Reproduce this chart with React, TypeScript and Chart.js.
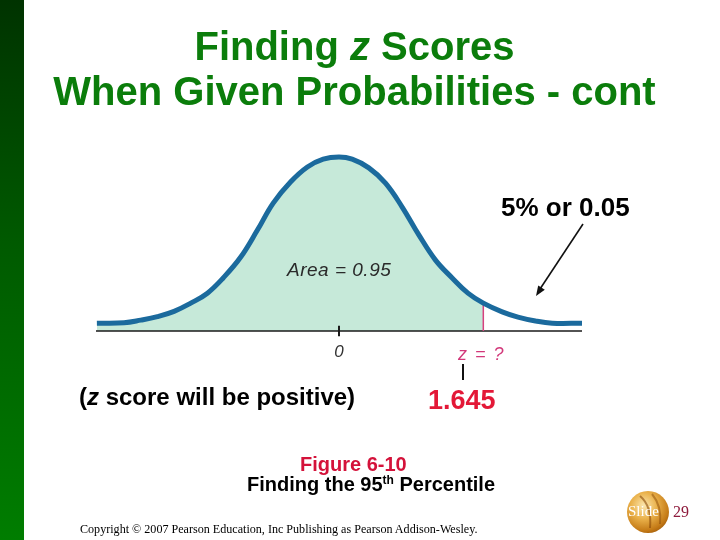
import React, { useEffect, useRef } from "react";
import { Chart, registerables } from "chart.js";

Chart.register(...registerables);

// z positions read along the drawn curve, and the curve's height above the axis
const curveZ = [-2.76, -2.45, -2.26, -2.07, -1.88, -1.69, -1.5, -1.32, -1.12, -0.93, -0.75, -0.55, -0.36, -0.18, 0, 0.15, 0.34, 0.53, 0.72, 0.91, 1.1, 1.29, 1.47, 1.645, 1.86, 2.04, 2.24, 2.43, 2.77];
const curveH = [0.018, 0.019, 0.025, 0.033, 0.045, 0.064, 0.087, 0.122, 0.17, 0.232, 0.294, 0.343, 0.377, 0.395, 0.4, 0.395, 0.375, 0.34, 0.285, 0.221, 0.163, 0.122, 0.087, 0.064, 0.044, 0.032, 0.023, 0.018, 0.018];
const cutoffZ = 1.645;
const zRange = [-2.77, 2.77];
const hMax = 0.45;
const tickZ = [0];

const titleLines = ["Finding", "z", "Scores", "When Given Probabilities - cont"];

const SANS = '"Liberation Sans", Arial, sans-serif';
const SERIF = '"Liberation Serif", "Times New Roman", serif';

function T(props: { x: number; y: number; size: number; children: any; style?: any; center?: boolean; serif?: boolean }) {
  const { x, y, size, children, style, center, serif } = props;
  const off = serif ? 0.8375 : 0.8465;
  return (
    <div
      style={{
        position: "absolute",
        left: center ? x - 300 : x,
        width: center ? 600 : undefined,
        textAlign: center ? "center" : "left",
        top: y - off * size,
        fontSize: size,
        lineHeight: `${size}px`,
        whiteSpace: "nowrap",
        fontFamily: serif ? SERIF : SANS,
        ...style,
      }}
    >
      {children}
    </div>
  );
}

export default function App() {
  const ref = useRef<HTMLCanvasElement | null>(null);

  useEffect(() => {
    if (!ref.current) return;
    const curvePts = curveZ.map((z, i) => ({ x: z, y: curveH[i] }));
    const areaPts = curvePts.filter((p) => p.x <= cutoffZ);
    const cutoffH = curveH[curveZ.indexOf(cutoffZ)];
    const chart = new Chart(ref.current, {
      type: "scatter",
      data: {
        datasets: [
          {
            label: "curve",
            data: curvePts,
            showLine: true,
            borderColor: "#1b6a9d",
            borderWidth: 5,
            pointRadius: 0,
            tension: 0.4,
            fill: false,
            clip: false,
            order: 0,
          } as any,
          {
            label: "cutoff",
            data: [
              { x: cutoffZ, y: 0 },
              { x: cutoffZ, y: cutoffH },
            ],
            showLine: true,
            borderColor: "#d6417f",
            borderWidth: 1.5,
            pointRadius: 0,
            order: 1,
          },
          {
            label: "axis",
            data: [
              { x: zRange[0], y: 0 },
              { x: zRange[1], y: 0 },
            ],
            showLine: true,
            borderColor: "#1a1a1a",
            borderWidth: 1.5,
            pointRadius: 0,
            clip: false,
            order: 2,
          } as any,
          ...tickZ.map(
            (z) =>
              ({
                label: "tick",
                data: [
                  { x: z, y: -0.012 },
                  { x: z, y: 0.012 },
                ],
                showLine: true,
                borderColor: "#1a1a1a",
                borderWidth: 2,
                pointRadius: 0,
                clip: false,
                order: 2,
              } as any)
          ),
          {
            label: "area",
            data: areaPts,
            showLine: true,
            fill: "origin",
            backgroundColor: "#c6e9d9",
            borderColor: "rgba(0,0,0,0)",
            borderWidth: 1,
            pointRadius: 0,
            tension: 0.4,
            order: 3,
          } as any,
        ],
      },
      options: {
        animation: false,
        responsive: false,
        devicePixelRatio: 1,
        events: [],
        layout: { padding: { left: 96, right: 138, top: 135.25, bottom: 209 } },
        plugins: { legend: { display: false }, tooltip: { enabled: false } },
        scales: {
          x: { type: "linear", min: zRange[0], max: zRange[1], display: false },
          y: { type: "linear", min: 0, max: hMax, display: false },
        },
      },
    });
    return () => chart.destroy();
  }, []);

  return (
    <div
      style={{
        position: "fixed",
        left: 0,
        top: 0,
        width: 720,
        height: 540,
        background: "#ffffff",
        overflow: "hidden",
      }}
    >
      <div
        style={{
          position: "absolute",
          left: 0,
          top: 0,
          width: 24,
          height: 540,
          background: "linear-gradient(to bottom, #003300 0%, #005a00 45%, #007d00 100%)",
        }}
      />
      <canvas ref={ref} width={720} height={540} style={{ position: "absolute", left: 0, top: 0 }} />

      <div
        style={{
          position: "absolute",
          left: 0,
          width: 709,
          top: 23.7,
          textAlign: "center",
          fontFamily: SANS,
          fontWeight: "bold",
          fontSize: 40,
          lineHeight: "45px",
          color: "#0b7d0b",
          whiteSpace: "nowrap",
        }}
      >
        <div>
          {titleLines[0]} <i>{titleLines[1]}</i> {titleLines[2]}
        </div>
        <div>{titleLines[3]}</div>
      </div>

      <T x={501} y={216} size={26} style={{ fontWeight: "bold", color: "#000" }}>
        5% or 0.05
      </T>

      <T x={287} y={276} size={19} style={{ fontStyle: "italic", color: "#2a2a2a", letterSpacing: 0.5 }}>
        Area = 0.95
      </T>
      <T x={339} y={357} size={17} center style={{ fontStyle: "italic", color: "#333" }}>
        0
      </T>
      <T x={458} y={360} size={18} style={{ fontStyle: "italic", color: "#d2387a", letterSpacing: 1.5 }}>
        z = ?
      </T>

      <T x={79} y={405} size={24} style={{ fontWeight: "bold", color: "#000" }}>
        (<i>z</i> score will be positive)
      </T>
      <T x={428} y={410} size={27} style={{ fontWeight: "bold", color: "#e31837" }}>
        1.645
      </T>

      <T x={300} y={471} size={20} style={{ fontWeight: "bold", color: "#d4123a" }}>
        Figure 6-10
      </T>
      <T x={247} y={491} size={20} style={{ fontWeight: "bold", color: "#000" }}>
        Finding the 95
        <span style={{ fontSize: 12, position: "relative", top: -7 }}>th</span> Percentile
      </T>

      <T x={80} y={533} size={12.1} serif style={{ color: "#000" }}>
        Copyright © 2007 Pearson Education, Inc Publishing as Pearson Addison-Wesley.
      </T>

      <svg width={720} height={540} style={{ position: "absolute", left: 0, top: 0 }}>
        <defs>
          <radialGradient id="orb" cx="40%" cy="35%" r="70%">
            <stop offset="0%" stopColor="#fbe7b0" />
            <stop offset="45%" stopColor="#eab14a" />
            <stop offset="85%" stopColor="#c47a16" />
            <stop offset="100%" stopColor="#a55f0c" />
          </radialGradient>
        </defs>
        <line x1={583} y1={224} x2={540} y2={289} stroke="#111" strokeWidth={1.6} />
        <polygon points="536,296 544.8,289.8 538.2,285.4" fill="#111" />
        <line x1={463} y1={364} x2={463} y2={380} stroke="#111" strokeWidth={2} />
        <circle cx={648} cy={512} r={21} fill="url(#orb)" />
        <path d="M640 496 Q652 506 650 528" stroke="#8a4a08" strokeWidth={2} fill="none" opacity={0.6} />
        <path d="M652 494 Q662 506 660 524" stroke="#8a4a08" strokeWidth={2} fill="none" opacity={0.5} />
      </svg>
      <T x={628} y={517} size={15} serif style={{ color: "#ffffff" }}>
        Slide
      </T>
      <T x={673} y={517} size={16} serif style={{ color: "#8e1b3c" }}>
        29
      </T>
    </div>
  );
}
